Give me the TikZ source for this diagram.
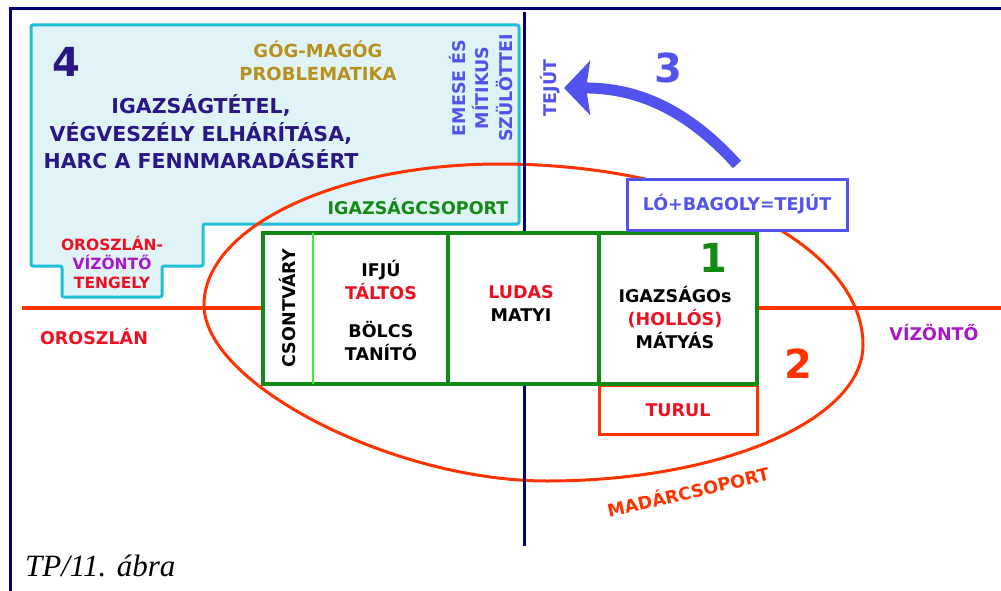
\documentclass[tikz,border=0pt]{standalone}
\usepackage{fontspec}
\setmainfont{DejaVu Sans}
\newfontfamily\figcapfont{Liberation Serif}
\usetikzlibrary{arrows.meta}

\definecolor{framenavy}{HTML}{00007F}
\definecolor{cyanline}{HTML}{1EC0D8}
\definecolor{cyanfill}{HTML}{E0F4F8}
\definecolor{ellipsered}{HTML}{FF3300}
\definecolor{boxgreen}{HTML}{138A13}
\definecolor{lightgreen}{HTML}{3CEB3C}
\definecolor{textred}{HTML}{EE1020}
\definecolor{textpurple}{HTML}{A818C8}
\definecolor{violet}{HTML}{5252EE}
\definecolor{gold}{HTML}{B8901C}
\definecolor{indigo}{HTML}{2A1685}

\begin{document}
\begin{tikzpicture}[x=1pt,y=-1pt,>=Stealth,
  lbl/.style={inner sep=0pt,align=center,font=\fontsize{17.5}{23}\selectfont\bfseries},
  bignum/.style={inner sep=0pt,font=\fontsize{40}{40}\selectfont\bfseries}]
  \useasboundingbox (0,0) rectangle (1001,591);
  % frame
  \draw[framenavy,line width=3pt] (1001,8.5) -- (10.8,8.5) -- (10.8,591);
  % region 4
  \draw[cyanline,fill=cyanfill,line width=3pt,rounded corners=2pt]
    (31,25) -- (519,25) -- (519,224) -- (203,224) -- (203,266) -- (162,266)
    -- (162,297) -- (62,297) -- (62,266) -- (31,266) -- cycle;
  % bird group (egg-shaped oval)
  \draw[ellipsered,line width=3pt]
    (204,305) .. controls (204,227) and (337,164) .. (500,164)
    .. controls (700,164) and (863,245) .. (863,345)
    .. controls (863,420) and (721,481) .. (547,481)
    .. controls (393,481) and (204,384) .. (204,305) -- cycle;
  % boxes
  \node[lbl,draw=ellipsered,line width=3pt,minimum width=158pt,minimum height=49pt,
    anchor=north,text=textred] (turul) at (678,384) {TURUL};
  \node[draw=boxgreen,fill=white,line width=3.5pt,minimum width=494pt,
    minimum height=151pt,inner sep=0pt] (core) at (510,308.5) {};
  \draw[lightgreen,line width=2pt] (313,233) -- (313,384);
  \draw[boxgreen,line width=3.5pt] (448,233) -- (448,384) (599,233) -- (599,384);
  \node[lbl,draw=violet,fill=white,line width=3pt,minimum width=220pt,
    minimum height=51pt,text=violet] (lobox) at (737,204.5) {LÓ+BAGOLY=TEJÚT};
  % axes
  \coordinate (lionend) at (22,308);
  \coordinate (aquaend) at (1001,308);
  \coordinate (milkytop) at (524,12);
  \coordinate (milkybot) at (524,546);
  \draw[ellipsered,line width=3.5pt] (lionend) -- (lionend -| core.west);
  \draw[ellipsered,line width=3.5pt] (aquaend -| core.east) -- (aquaend);
  \draw[framenavy,line width=3pt] (milkytop) -- (milkytop |- core.north);
  \draw[framenavy,line width=3pt] (milkybot |- core.south) -- (milkybot);
  % labels
  \node[bignum,text=indigo] (four) at (66,62) {4};
  \node[lbl,text=gold,font=\fontsize{18}{23}\selectfont\bfseries] (gog) at (318,61)
    {GÓG-MAGÓG\\PROBLEMATIKA};
  \node[lbl,text=indigo,font=\fontsize{20.5}{27.5}\selectfont\bfseries] (justice) at (201,132)
    {IGAZSÁGTÉTEL,\\VÉGVESZÉLY ELHÁRÍTÁSA,\\HARC A FENNMARADÁSÉRT};
  \node[lbl,text=violet,rotate=90,font=\fontsize{17.5}{23.5}\selectfont\bfseries] (emese) at (481,88)
    {EMESE ÉS\\MÍTIKUS\\SZÜLÖTTEI};
  \node[lbl,text=boxgreen] (igcsop) at (418,207) {IGAZSÁGCSOPORT};
  \node[lbl,text=textred,font=\fontsize{15.5}{19}\selectfont\bfseries] (axislbl) at (112,262)
    {OROSZLÁN-\\\textcolor{textpurple}{VÍZÖNTŐ}\\TENGELY};
  \node[lbl,text=textred] (lion) at (94,337) {OROSZLÁN};
  \node[lbl,text=textpurple] (aqua) at (934,333) {VÍZÖNTŐ};
  \node[bignum,text=ellipsered] (two) at (798,364) {2};
  \node[lbl,text=ellipsered,rotate=13] (birds) at (688,491) {MADÁRCSOPORT};
  \node[lbl,text=violet,rotate=90] (tejut) at (550,88) {TEJÚT};
  \node[bignum,text=violet] (three) at (668,68) {3};
  \node[lbl,rotate=90] (csont) at (288,308) {CSONTVÁRY};
  \node[lbl] (taltos) at (381,280) {IFJÚ\\\textcolor{textred}{TÁLTOS}};
  \node[lbl] (tanito) at (381,341) {BÖLCS\\TANÍTÓ};
  \node[lbl] (ludas) at (521,304) {\textcolor{textred}{LUDAS}\\MATYI};
  \node[bignum,text=boxgreen] (one) at (713,258) {1};
  \node[lbl] (matyas) at (675,318) {IGAZSÁGOs\\\textcolor{textred}{(HOLLÓS)}\\MÁTYÁS};
  % arrow 3
  \draw[violet,line width=11pt,-{Stealth[length=26pt,width=54pt,inset=4pt]}]
    ([yshift=13pt]lobox.north) to[bend right=24] ([xshift=4pt]tejut.south);
  % caption
  \node[anchor=base west,inner sep=0pt,font=\figcapfont\itshape\fontsize{31}{31}\selectfont]
    (caption) at (25,576) {TP/11. ábra};
\end{tikzpicture}
\end{document}
